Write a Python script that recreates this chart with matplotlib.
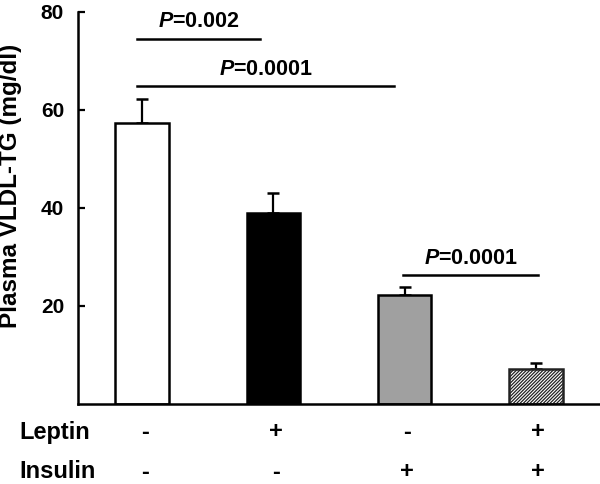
import matplotlib
matplotlib.use("Agg")
import matplotlib.pyplot as plt
import matplotlib.transforms as mtransforms
import numpy as np

# ---- data ----
groups = ["Ctrl", "Leptin", "Insulin", "Leptin+Insulin"]
values = [57.3, 39.0, 22.2, 7.2]
errors = [4.9, 4.1, 1.6, 1.1]
leptin_signs = ["-", "+", "-", "+"]
insulin_signs = ["-", "-", "+", "+"]
yticks = [20, 40, 60, 80]
# significance brackets: (start group, end group, y value, label)
sig_pairs = [(0, 1, 74.5, "0.002"), (0, 2, 64.8, "0.0001"), (2, 3, 26.3, "0.0001")]

FONT = "Liberation Sans"
plt.rcParams["font.family"] = [FONT, "DejaVu Sans"]
plt.rcParams["font.weight"] = "bold"
plt.rcParams["mathtext.fontset"] = "custom"
plt.rcParams["mathtext.bfit"] = "Liberation Sans:bold:italic"
plt.rcParams["mathtext.it"] = "Liberation Sans:italic"
plt.rcParams["mathtext.rm"] = "Liberation Sans"
plt.rcParams["hatch.linewidth"] = 0.9

fig = plt.figure(figsize=(6.0, 4.84), dpi=100)
ax = fig.add_axes([78 / 600, 1 - 404 / 484, 1 - 78 / 600, (404 - 11.7) / 484])

x = np.arange(len(groups))
colors = ["white", "black", "#a0a0a0", "white"]
bars = ax.bar(x, values, width=0.41, color=colors, edgecolor="black",
              linewidth=1.8, zorder=2)
bars[3].set_hatch("//////////")
bars[3].set_edgecolor("#222222")

ax.errorbar(x, values, yerr=[np.zeros(len(values)), errors], fmt="none",
            ecolor="black", elinewidth=1.6, capsize=4, capthick=1.8, zorder=1)

ax.set_xlim(-0.49, 3.49)
ax.set_ylim(0, 80)
ax.set_yticks(yticks)
ax.set_yticklabels([str(t) for t in yticks], fontsize=15, fontweight="bold")
ax.set_xticks([])
ax.tick_params(axis="y", direction="in", length=5, width=1.6, pad=10)
for s in ["top", "right"]:
    ax.spines[s].set_visible(False)
ax.spines["left"].set_linewidth(1.8)
ax.spines["bottom"].set_linewidth(1.8)

# significance lines
for a, b, yv, lab in sig_pairs:
    x0 = x[a] - 0.04
    x1 = x[b] - 0.1 if b != 3 else x[b] + 0.02
    if (a, b) == (2, 3):
        x0 = x[a] - 0.01
    if (a, b) == (0, 2):
        x1 = x[b] - 0.08
    ax.plot([x0, x1], [yv, yv], color="black", lw=1.8, clip_on=False, zorder=3)
    ax.text((x0 + x1) / 2, yv + 3.4,
            r"$\mathbfit{P}$=" + lab, ha="center", va="center",
            fontsize=15.5, fontweight="bold")

fig.text(11 / 600, 1 - 186 / 484, "Plasma VLDL-TG (mg/dl)", rotation=90,
         ha="center", va="center", fontsize=17.5, fontweight="bold")

trans = mtransforms.blended_transform_factory(ax.transData, fig.transFigure)
row_y = [1 - 432 / 484, 1 - 472 / 484]
fig.text(19 / 600, row_y[0], "Leptin", ha="left", va="center",
         fontsize=17, fontweight="bold")
fig.text(19 / 600, row_y[1], "Insulin", ha="left", va="center",
         fontsize=17, fontweight="bold")
for i in range(len(groups)):
    ax.text(x[i] + 0.02, row_y[0], leptin_signs[i], transform=trans,
            ha="center", va="center", fontsize=17, fontweight="bold")
    ax.text(x[i] + 0.02, row_y[1], insulin_signs[i], transform=trans,
            ha="center", va="center", fontsize=17, fontweight="bold")

fig.savefig("out.png", dpi=100)
